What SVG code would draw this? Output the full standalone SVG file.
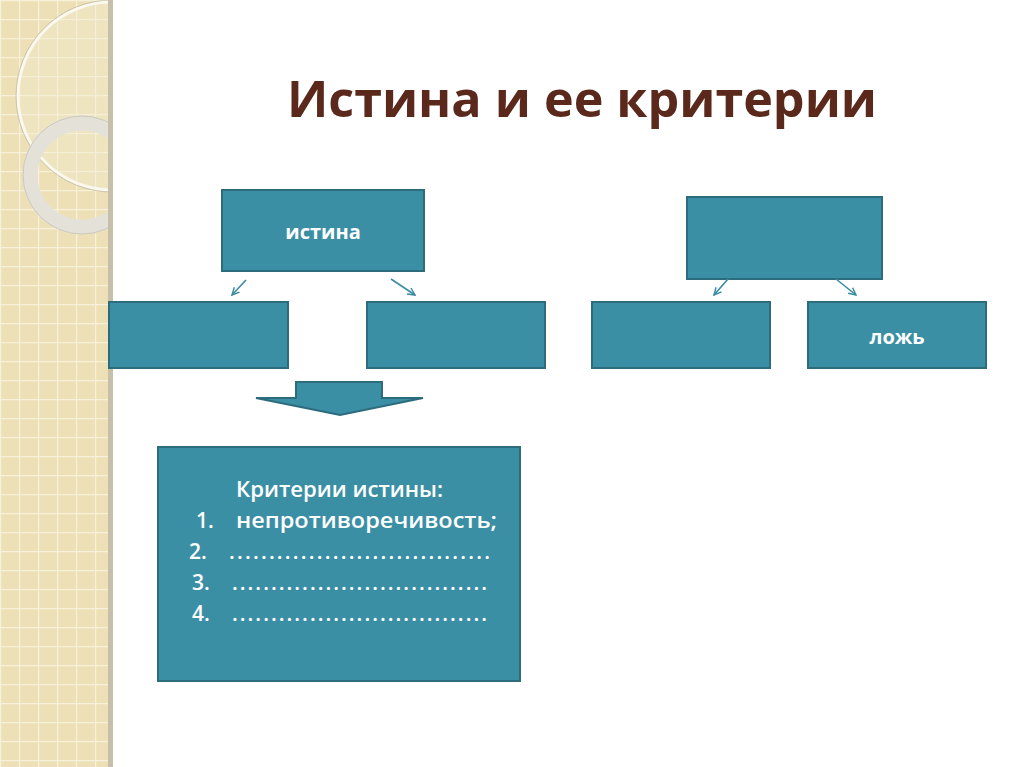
<svg xmlns="http://www.w3.org/2000/svg" width="1024" height="767" viewBox="0 0 1024 767">
<defs>
<pattern id="grid" x="0" y="0" width="19" height="19" patternUnits="userSpaceOnUse">
<rect width="19" height="19" fill="#EDE0B6"/>
<path d="M0 0.5H19M0.5 0V19" stroke="#F8F1DA" stroke-width="1.5"/>
</pattern>
<marker id="ah" viewBox="0 0 10 10" refX="9" refY="5" markerWidth="9" markerHeight="9" orient="auto" markerUnits="userSpaceOnUse">
<path d="M1 1L9 5L1 9" fill="none" stroke="#3A8CA2" stroke-width="1.6"/>
</marker>
<clipPath id="strip"><rect x="0" y="0" width="109" height="767"/></clipPath>
</defs>
<style>
.box{fill:#3A8FA5;stroke:#2C6C7D;stroke-width:2}
.lbl{font-family:"Open Sans","Liberation Sans",sans-serif;font-weight:bold;fill:#FFFFFF}
.txt{font-family:"Open Sans","Liberation Sans",sans-serif;font-weight:600;fill:#FFFFFF;font-size:21px}
.con{stroke:#3A8CA2;stroke-width:1.6;fill:none}
</style>
<rect width="1024" height="767" fill="#FFFFFF"/>
<g id="strip-bg">
<rect x="0" y="0" width="109" height="767" fill="url(#grid)"/>
<g clip-path="url(#strip)">
<circle cx="112" cy="96" r="94" fill="#F3EBD3" fill-opacity="0.35" stroke="#FBF8F0" stroke-width="3"/>
<circle cx="112" cy="96" r="96" fill="none" stroke="#B8B09A" stroke-width="1" opacity="0.6"/>
<circle cx="82" cy="175" r="52" fill="none" stroke="#E4E1D8" stroke-width="15"/>
<circle cx="82" cy="175" r="59" fill="none" stroke="#BDB8A8" stroke-width="1" opacity="0.6"/>
</g>
<rect x="108" y="0" width="5" height="767" fill="#C6C0AB"/>
</g>
<text id="title" x="287" y="117" textLength="590" lengthAdjust="spacingAndGlyphs" font-family="'Open Sans','Liberation Sans',sans-serif" font-weight="bold" font-size="50" fill="#5B281C">Истина и ее критерии</text>
<g id="n-istina"><rect class="box" x="222" y="190" width="202" height="81"/><text class="lbl" x="323" y="239" font-size="20" text-anchor="middle">истина</text></g>
<g id="n-left1"><rect class="box" x="109" y="302" width="179" height="66"/></g>
<g id="n-left2"><rect class="box" x="367" y="302" width="178" height="66"/></g>
<g id="n-top2"><rect class="box" x="687" y="197" width="195" height="82"/></g>
<g id="n-right1"><rect class="box" x="592" y="302" width="178" height="66"/></g>
<g id="n-lozh"><rect class="box" x="808" y="302" width="178" height="66"/><text class="lbl" x="897" y="344" font-size="20" text-anchor="middle">ложь</text></g>
<g id="n-arrow"><path class="box" d="M296 382H382V398H423L340 415L256 398H296Z"/></g>
<g id="n-criteria">
<rect class="box" x="158" y="447" width="362" height="234"/>
<text class="txt" x="236" y="497" textLength="207" lengthAdjust="spacingAndGlyphs">Критерии истины:</text>
<text class="txt" x="196" y="528">1.</text><text class="txt" x="236" y="528" textLength="261" lengthAdjust="spacingAndGlyphs">непротиворечивость;</text>
<text class="txt" x="189" y="559">2.</text><text class="txt" x="229" y="559" textLength="261" lengthAdjust="spacing">.................................</text>
<text class="txt" x="192" y="590">3.</text><text class="txt" x="232" y="590" textLength="255" lengthAdjust="spacing">.................................</text>
<text class="txt" x="192" y="621">4.</text><text class="txt" x="232" y="621" textLength="255" lengthAdjust="spacing">.................................</text>
</g>
<g id="connectors">
<path class="con" d="M246 280L232 295" marker-end="url(#ah)"/>
<path class="con" d="M391 279L415 295" marker-end="url(#ah)"/>
<path class="con" d="M728 279L714 295" marker-end="url(#ah)"/>
<path class="con" d="M836 279L856 295" marker-end="url(#ah)"/>
</g>
</svg>
